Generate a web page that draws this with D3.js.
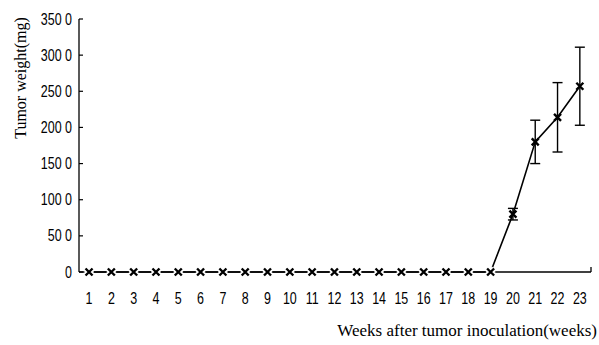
<!DOCTYPE html>
<html>
<head>
<meta charset="utf-8">
<script src="https://cdn.jsdelivr.net/npm/d3@7"></script>
<style>
  body { margin: 0; background: #fff; }
  .tick-label { font-family: "Liberation Sans", Arial, sans-serif; font-size: 16px; fill: #000; }
  .title { font-family: "Liberation Serif", "Times New Roman", serif; fill: #000; }
</style>
</head>
<body>
<script>
"use strict"

// Tumor weight over weeks after inoculation

var weeks = d3.range(1, 24)
var weights = [0, 0, 0, 0, 0, 0, 0, 0, 0, 0, 0, 0, 0, 0, 0, 0, 0, 0, 0, 80, 180, 214, 257]
var errors = [0, 0, 0, 0, 0, 0, 0, 0, 0, 0, 0, 0, 0, 0, 0, 0, 0, 0, 0, 8, 30, 48, 54]
var yTicks = [0, 50, 100, 150, 200, 250, 300, 350]
var yTickLabels = ["0", "50 0", "100 0", "150 0", "200 0", "250 0", "300 0", "350 0"]

var width = 599
var height = 345
var squeeze = 0.78

var x = d3.scaleLinear().domain([0.55, 23.5]).range([79, 591])
var y = d3.scaleLinear().domain([0, 350]).range([272, 19])

var svg = d3.select("body").append("svg")
  .attr("width", width)
  .attr("height", height)

var data = weeks.map(function(w, i) {
  return { week: w, value: weights[i], err: errors[i] }
})

// axes
svg.append("line")
  .attr("x1", x.range()[0]).attr("x2", x.range()[0])
  .attr("y1", y(0)).attr("y2", y(350))
  .attr("stroke", "#000").attr("stroke-width", 1.3)
svg.append("line")
  .attr("x1", x.range()[0]).attr("x2", x.range()[1])
  .attr("y1", y(0)).attr("y2", y(0))
  .attr("stroke", "#000").attr("stroke-width", 1.3)
svg.append("line")
  .attr("x1", x.range()[1]).attr("x2", x.range()[1])
  .attr("y1", y(0)).attr("y2", y(0) - 5)
  .attr("stroke", "#000").attr("stroke-width", 1.3)

var gy = svg.append("g").selectAll("g")
  .data(yTicks)
  .enter().append("g")
gy.append("line")
  .attr("x1", x.range()[0]).attr("x2", x.range()[0] + 4)
  .attr("y1", function(d) { return y(d) }).attr("y2", function(d) { return y(d) })
  .attr("stroke", "#000").attr("stroke-width", 1.2)
gy.append("text")
  .attr("class", "tick-label")
  .attr("transform", function(d) { return "translate(72," + y(d) + ") scale(" + squeeze + ",1)" })
  .attr("dy", "0.35em")
  .style("text-anchor", "end")
  .text(function(d, i) { return yTickLabels[i] })

svg.append("g").selectAll("text")
  .data(weeks)
  .enter().append("text")
  .attr("class", "tick-label")
  .attr("transform", function(d) { return "translate(" + x(d) + ",298) scale(" + squeeze + ",1)" })
  .attr("dy", "0.35em")
  .style("text-anchor", "middle")
  .text(function(d) { return d })

// titles
svg.append("text")
  .attr("class", "title")
  .attr("transform", "translate(20,78) rotate(-90)")
  .attr("dy", "0.35em")
  .style("text-anchor", "middle")
  .style("font-size", "16px")
  .text("Tumor weight(mg)")

svg.append("text")
  .attr("class", "title")
  .attr("x", 597)
  .attr("y", 330)
  .attr("dy", "0.35em")
  .style("text-anchor", "end")
  .style("font-size", "17px")
  .text("Weeks after tumor inoculation(weeks)")

// line
var line = d3.line()
  .x(function(d) { return x(d.week) })
  .y(function(d) { return y(d.value) })

svg.append("path")
  .datum(data)
  .attr("d", line)
  .attr("fill", "none")
  .attr("stroke", "#000")
  .attr("stroke-width", 1.6)

// error bars
var eb = svg.append("g").selectAll("g")
  .data(data.filter(function(d) { return d.err > 0 }))
  .enter().append("g")
  .attr("stroke", "#000")
  .attr("stroke-width", 1.4)
eb.append("line")
  .attr("x1", function(d) { return x(d.week) }).attr("x2", function(d) { return x(d.week) })
  .attr("y1", function(d) { return y(d.value + d.err) })
  .attr("y2", function(d) { return y(d.value - d.err) })
eb.append("line")
  .attr("x1", function(d) { return x(d.week) - 5 }).attr("x2", function(d) { return x(d.week) + 5 })
  .attr("y1", function(d) { return y(d.value + d.err) })
  .attr("y2", function(d) { return y(d.value + d.err) })
eb.append("line")
  .attr("x1", function(d) { return x(d.week) - 5 }).attr("x2", function(d) { return x(d.week) + 5 })
  .attr("y1", function(d) { return y(d.value - d.err) })
  .attr("y2", function(d) { return y(d.value - d.err) })

// x markers
var xm = svg.append("g").selectAll("path")
  .data(data)
  .enter()
var cross = function(d) {
  var cx = x(d.week), cy = y(d.value), s = 3.5
  return "M" + (cx - s) + "," + (cy - s) + "L" + (cx + s) + "," + (cy + s) +
    "M" + (cx + s) + "," + (cy - s) + "L" + (cx - s) + "," + (cy + s)
}
xm.append("path")
  .attr("d", cross)
  .attr("stroke", "#fff")
  .attr("stroke-width", function(d) { return d.value === 0 ? 6 : 0 })
xm.append("path")
  .attr("d", cross)
  .attr("stroke", "#000")
  .attr("stroke-width", 2.4)
</script>
</body>
</html>
